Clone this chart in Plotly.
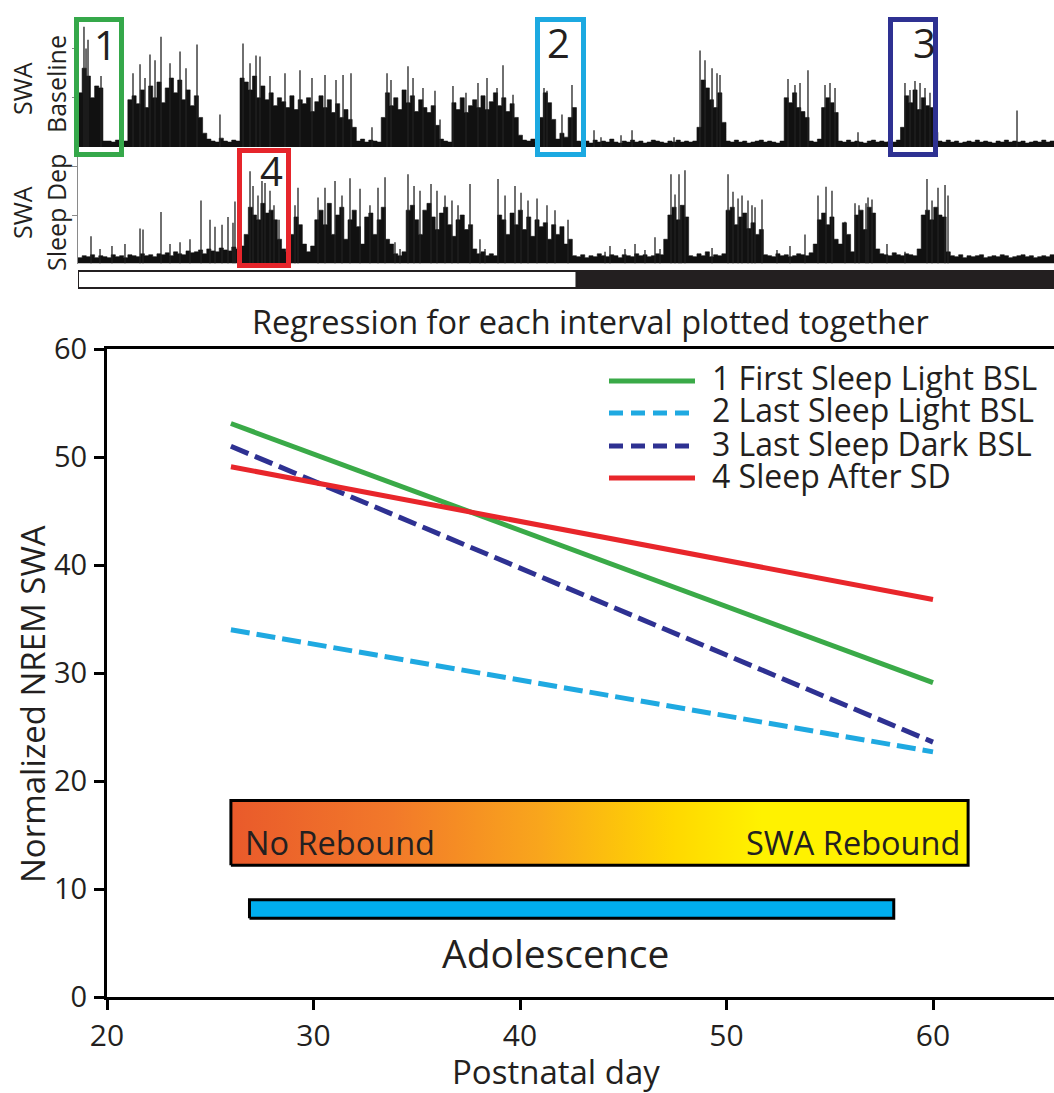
import plotly.graph_objects as go

W, H = 1054, 1093


def px(x):
    return x / W


def py(y):
    return 1 - y / H


# ---------------- regression lines: normalized NREM SWA vs postnatal day ----------------
reg_days = [26, 60]
first_light_bsl = [53.1, 29.1]
last_light_bsl = [34.0, 22.7]
last_dark_bsl = [51.0, 23.6]
after_sd = [49.1, 36.8]

series_names = ["1 First Sleep Light BSL", "2 Last Sleep Light BSL",
                "3 Last Sleep Dark BSL", "4 Sleep After SD"]
series_colors = ["#3AAA48", "#1FA9E1", "#2E3192", "#E8262B"]
series_dash = ["solid", "19px,7px", "19px,7px", "solid"]

x_ticks = [20, 30, 40, 50, 60]
y_ticks = [0, 10, 20, 30, 40, 50, 60]

rebound_days = [26.0, 61.7]
rebound_swa = [12.2, 18.2]
adolescence_days = [26.9, 58.1]
adolescence_swa = [7.3, 9.0]

# ---------------- 24 h SWA recordings (0.1 h epochs) ----------------
epoch_h = 0.1
baseline_swa = [
    55, 80, 72, 50, 62, 60, 6, 6, 5, 7, 5, 6,
    48, 52, 44, 58, 40, 62, 50, 66, 45, 60, 70, 55, 68, 48, 58, 42, 52, 30, 14,
    8, 6, 5, 9, 6, 5, 7, 6,
    70, 66, 58, 72, 50, 62, 48, 55, 42, 50, 46, 40, 52, 38, 48, 44, 50, 36, 46, 52,
    40, 48, 35, 44, 30, 38, 28, 20,
    6, 8, 5, 7, 6, 5,
    30, 55, 42, 50, 38, 58, 45, 52, 36, 48, 40, 35, 42, 22,
    8, 6, 5,
    45, 38, 50, 35, 42, 48, 40, 52, 38, 46, 55, 42, 50, 36, 44, 30, 12,
    7, 6, 8, 5,
    30, 55, 45, 28, 8, 14, 10, 30, 40, 6,
    5, 6, 4, 7, 5, 6, 5, 8, 5, 4, 6, 5, 7, 5, 6, 4, 5, 7, 6, 5, 4, 6, 5, 7, 5, 6, 5, 6,
    20, 68, 60, 48, 40, 55, 25,
    6, 5, 7, 5, 6, 4, 5, 6, 7, 5, 6, 5, 4, 6,
    50, 45, 55, 40, 36, 30,
    6, 5, 8,
    40, 50, 45, 35,
    6, 5, 7, 5, 6, 5, 4, 6, 7, 5, 6, 5, 6, 5, 7,
    20, 52, 45, 58, 38, 50, 42, 40, 15,
    6, 5, 7, 5, 6, 4, 5, 6, 5, 7, 5, 6, 5, 4, 6, 5, 7, 5, 6, 5, 6, 4, 5, 6, 5, 7, 5, 6,
]
baseline_peak_h = [
    0.144, 0.193, 0.241, 0.554,
    1.324, 1.493, 1.613, 1.733, 1.854, 1.998, 2.215, 2.456, 2.600, 2.865, 3.418,
    3.972, 4.141, 4.285, 4.381, 4.622, 4.983, 5.344, 5.633, 5.946, 6.211, 6.380, 6.572,
    7.077, 7.439, 7.535, 7.944, 8.065, 8.305, 8.594, 8.715,
    9.027, 9.340, 9.629, 9.846, 10.087, 10.231, 10.472,
    11.218, 11.290, 11.651, 11.892,
    12.422, 12.590, 13.072, 13.337, 14.348,
    14.974, 15.094, 15.263, 15.383, 15.455,
    17.092, 17.260, 17.381, 17.573,
    17.983, 18.103, 18.224, 18.777,
    19.908, 20.029, 20.149, 20.270, 20.390, 20.510, 22.605,
]
baseline_peak_swa = [
    122, 100, 109, 72,
    75, 84, 70, 94, 88, 112, 85, 97, 80, 104, 33,
    105, 85, 93, 92, 72, 75, 78, 70, 73, 68, 73, 75,
    20, 75, 68, 82, 70, 60, 57, 28,
    62, 55, 65, 70, 60, 83, 53,
    60, 57, 33, 63,
    17, 10, 12, 17, 10,
    98, 88, 80, 75, 73,
    69, 63, 65, 78,
    63, 65, 60, 15,
    65, 58, 67, 65, 60, 55, 37,
]

sleep_dep_swa = [
    6, 8, 7, 9, 6, 8, 7, 6, 9, 7, 8, 6, 9, 8, 7, 10, 8, 9, 7, 10,
    9, 11, 8, 12, 10, 9, 13, 11, 12, 14, 10, 15, 13, 12, 16, 14, 13, 17, 15, 18,
    30, 58, 50, 45, 62, 52, 55, 45, 25,
    15, 12, 30, 48, 40, 20, 12, 18,
    45, 55, 40, 62, 30, 50, 58, 25, 45, 55, 38, 20, 48, 52, 30, 45, 58, 25,
    20, 10, 8, 12,
    55, 60, 45, 30, 55, 62, 48, 35, 52, 58, 40, 28, 45, 50, 35, 40,
    15, 10, 12, 8, 10, 8,
    50, 45, 30, 52, 40, 55, 35, 48, 28, 45, 38, 42, 25, 40, 30, 38, 20, 25,
    8, 7, 9, 6, 8, 7, 10, 8, 7, 9, 8, 6, 9, 8, 7, 10, 8, 9, 7, 8, 10, 9,
    25, 50, 58, 45, 60, 48,
    8, 7, 10, 8, 12, 7, 9, 8, 10,
    55, 58, 40, 48, 52, 36, 42, 30, 35,
    9, 8, 7, 10, 8, 9, 7, 8, 10, 9, 8, 11,
    20, 45, 52, 40, 48, 25,
    20, 42, 30, 12, 50, 55, 35, 58, 52, 15,
    10, 9, 8, 11, 9, 8, 10, 9, 8,
    15, 50, 55, 45, 58, 50, 48, 12,
    8, 7, 9, 6, 8, 7, 8, 9, 6, 7, 8, 7, 9, 8, 6, 7, 8, 9, 7, 8, 6, 7, 8, 7, 9,
]
sleep_dep_peak_h = [
    0.313, 0.530, 0.818, 1.131, 1.493, 1.565, 1.998, 2.215, 2.456, 2.696,
    2.961, 3.178, 3.298, 3.467, 3.611, 3.731, 3.779, 3.900,
    4.141, 4.213, 4.333, 4.429, 4.502, 4.622, 4.718, 4.839,
    5.224, 5.296,
    5.778, 5.946, 6.187, 6.355, 6.548, 6.789, 7.029, 7.222, 7.391,
    7.631, 7.752,
    7.944, 8.089, 8.233, 8.498, 8.642, 8.835, 9.003, 9.148, 9.437,
    9.677, 9.798,
    10.111, 10.280, 10.520, 10.665, 10.833, 11.050, 11.290, 11.483, 11.796,
    12.687, 12.807, 13.168, 13.409, 13.649, 13.890, 14.011,
    14.275, 14.372, 14.468, 14.516, 14.612, 15.263,
    15.648, 15.768, 15.889, 15.985, 16.129, 16.225, 16.298, 16.466,
    16.827, 17.140, 17.501,
    17.814, 18.007, 18.151,
    18.464, 18.705, 18.801, 18.970, 19.018, 19.114,
    19.475, 19.908,
    20.438, 20.559, 20.703, 20.872, 20.944,
]
sleep_dep_peak_swa = [
    28, 15, 18, 20, 36, 35, 53, 20, 22, 25,
    65, 45, 38, 40, 48, 42, 64, 30,
    95, 80, 70, 85, 83, 75, 60, 45,
    60, 78,
    68, 78, 85, 70, 88, 77, 60, 78, 89,
    22, 15,
    92, 80, 75, 82, 75, 70, 65, 60, 82,
    25, 15,
    87, 70, 80, 73, 65, 67, 60, 55, 45,
    12, 18, 15, 20, 14, 27, 15,
    92, 71, 92, 60, 96, 16,
    92, 74, 67, 70, 65, 60, 58, 66,
    14, 18, 30,
    70, 79, 75,
    43, 62, 60, 62, 68, 66,
    20, 12,
    87, 65, 78, 81, 70,
]

light_phase_h = [0, 12]
dark_phase_h = [12, 24]

# highlighted intervals: label, colour, box in page pixels (x0, y0, x1, y1)
interval_labels = ["1", "2", "3", "4"]
interval_colors = ["#35A84A", "#1CA9E1", "#2E3192", "#E6252B"]
interval_boxes = [(76.5, 19.5, 121.5, 154.5), (537.5, 19.5, 583.5, 154.5),
                  (890.5, 19.5, 935.5, 154.5), (239.5, 150.5, 288.5, 265.5)]
interval_label_xy = [(105, 45), (558, 43), (924, 43), (271, 171)]

TXT = "#231F20"
FONT = "Open Sans"

fig = go.Figure()


def step_trace(values, xa, ya):
    t = [i * epoch_h for i in range(len(values) + 1)]
    v = list(values) + [values[-1]]
    return go.Scatter(x=t, y=v, xaxis=xa, yaxis=ya, mode="lines", line_shape="hv",
                      line=dict(color="#111111", width=0.6), fill="tozeroy",
                      fillcolor="#111111", hoverinfo="skip", showlegend=False)


def needle_trace(ts, hs, xa, ya):
    xs, ys = [], []
    for t, h in zip(ts, hs):
        xs += [t, t, None]
        ys += [0, h, None]
    return go.Scatter(x=xs, y=ys, xaxis=xa, yaxis=ya, mode="lines",
                      line=dict(color="#222222", width=1.3),
                      hoverinfo="skip", showlegend=False)


fig.add_trace(step_trace(baseline_swa, "x2", "y2"))
fig.add_trace(needle_trace(baseline_peak_h, baseline_peak_swa, "x2", "y2"))
fig.add_trace(step_trace(sleep_dep_swa, "x3", "y3"))
fig.add_trace(needle_trace(sleep_dep_peak_h, sleep_dep_peak_swa, "x3", "y3"))

# rebound gradient band
fig.add_trace(go.Scatter(
    x=[rebound_days[0], rebound_days[1], rebound_days[1], rebound_days[0], rebound_days[0]],
    y=[rebound_swa[0], rebound_swa[0], rebound_swa[1], rebound_swa[1], rebound_swa[0]],
    mode="lines", fill="toself", line=dict(color="black", width=3),
    fillgradient=dict(type="horizontal", colorscale=[
        [0.0, "#E95A2B"], [0.22, "#F2792A"], [0.42, "#F9A61C"],
        [0.6, "#FFD800"], [0.72, "#FFF200"], [1.0, "#FFF200"]]),
    hoverinfo="skip", showlegend=False))

# adolescence bar
fig.add_trace(go.Scatter(
    x=[adolescence_days[0], adolescence_days[1], adolescence_days[1], adolescence_days[0], adolescence_days[0]],
    y=[adolescence_swa[0], adolescence_swa[0], adolescence_swa[1], adolescence_swa[1], adolescence_swa[0]],
    mode="lines", fill="toself", fillcolor="#00AEEF", line=dict(color="black", width=3),
    hoverinfo="skip", showlegend=False))

for name, ys, col, dash in zip(series_names,
                               [first_light_bsl, last_light_bsl, last_dark_bsl, after_sd],
                               series_colors, series_dash):
    fig.add_trace(go.Scatter(x=reg_days, y=ys, mode="lines", name=name,
                             line=dict(color=col, width=5, dash=dash), showlegend=False))

shapes = []
# light / dark bar
shapes.append(dict(type="rect", xref="x3", yref="paper", x0=dark_phase_h[0], x1=dark_phase_h[1],
                   y0=py(288), y1=py(271), fillcolor="#231F20", line=dict(color="#231F20", width=2)))
shapes.append(dict(type="rect", xref="x3", yref="paper", x0=light_phase_h[0], x1=light_phase_h[1],
                   y0=py(288), y1=py(271), fillcolor="white", line=dict(color="#231F20", width=2)))
# interval boxes
for col, (x0, y0, x1, y1) in zip(interval_colors, interval_boxes):
    shapes.append(dict(type="rect", xref="paper", yref="paper", x0=px(x0), x1=px(x1),
                       y0=py(y1), y1=py(y0), line=dict(color=col, width=5), layer="above"))

# legend samples
legend_rows = [381, 413, 446, 478]
for col, dash, yy in zip(series_colors, ["solid", "14px,8px", "14px,8px", "solid"], legend_rows):
    shapes.append(dict(type="line", xref="paper", yref="paper", x0=px(609), x1=px(695),
                       y0=py(yy), y1=py(yy), line=dict(color=col, width=5, dash=dash)))

annotations = []
for name, yy in zip(series_names, legend_rows):
    annotations.append(dict(text=name, xref="paper", yref="paper", x=px(710), y=py(yy - 3),
                            xanchor="left", yanchor="middle", showarrow=False,
                            font=dict(family=FONT, size=32, color=TXT)))
for lab, (xx, yy) in zip(interval_labels, interval_label_xy):
    annotations.append(dict(text=lab, xref="paper", yref="paper", x=px(xx), y=py(yy),
                            xanchor="center", yanchor="middle", showarrow=False,
                            font=dict(family=FONT, size=40, color=TXT)))

side_labels = [("SWA", 22, 89), ("Baseline", 56, 84), ("SWA", 22, 213), ("Sleep Dep", 56, 213)]
for txt, xx, yy in side_labels:
    annotations.append(dict(text=txt, xref="paper", yref="paper", x=px(xx), y=py(yy),
                            xanchor="center", yanchor="middle", textangle=-90, showarrow=False,
                            font=dict(family=FONT, size=25, color=TXT)))

annotations += [
    dict(text="Regression for each interval plotted together", xref="paper", yref="paper",
         x=px(590), y=py(321), xanchor="center", yanchor="middle", showarrow=False,
         font=dict(family=FONT, size=32.5, color=TXT)),
    dict(text="Normalized NREM SWA", xref="paper", yref="paper", x=px(32), y=py(704),
         xanchor="center", yanchor="middle", textangle=-90, showarrow=False,
         font=dict(family=FONT, size=33, color=TXT)),
    dict(text="Postnatal day", xref="paper", yref="paper", x=px(556), y=py(1071.5),
         xanchor="center", yanchor="middle", showarrow=False,
         font=dict(family=FONT, size=33, color=TXT)),
    dict(text="No Rebound", x=26.6, y=14.3, xanchor="left", yanchor="middle", showarrow=False,
         font=dict(family=FONT, size=32.5, color=TXT)),
    dict(text="SWA Rebound", x=61.4, y=14.3, xanchor="right", yanchor="middle", showarrow=False,
         font=dict(family=FONT, size=32.5, color=TXT)),
    dict(text="Adolescence", x=41.7, y=4.1, xanchor="center", yanchor="middle", showarrow=False,
         font=dict(family=FONT, size=39, color=TXT)),
]

top_x = dict(domain=[px(78), 1], range=[0, (W - 78) / 41.54], visible=False,
             fixedrange=True, automargin=False)
fig.update_layout(
    width=W, height=H, margin=dict(l=0, r=0, t=0, b=0, autoexpand=False),
    paper_bgcolor="white", plot_bgcolor="rgba(0,0,0,0)", showlegend=False,
    xaxis=dict(domain=[px(107), 1], range=[20, 20 + (W - 107) / 20.65],
               tickvals=x_ticks, ticks="outside", ticklen=10, tickwidth=3, tickcolor="black",
               showline=True, linewidth=3, linecolor="black", mirror=True,
               showgrid=False, zeroline=False, automargin=False,
               tickfont=dict(family=FONT, size=30, color=TXT), anchor="y"),
    yaxis=dict(domain=[py(997), py(349)], range=[0, 60],
               tickvals=y_ticks, ticks="outside", ticklen=10, tickwidth=3, tickcolor="black",
               showline=True, linewidth=3, linecolor="black",
               showgrid=False, zeroline=False, ticklabelstandoff=1, automargin=False,
               tickfont=dict(family=FONT, size=29, color=TXT), anchor="x"),
    xaxis2=dict(top_x, anchor="y2"),
    xaxis3=dict(top_x, anchor="y3"),
    yaxis2=dict(domain=[py(147), py(17)], range=[0, 132], anchor="x2", automargin=False,
                tickvals=[50, 100], ticks="outside", ticklen=5, tickcolor="#8a8a8a",
                showticklabels=False, showline=True, linecolor="#8a8a8a", linewidth=1,
                showgrid=False, zeroline=False),
    yaxis3=dict(domain=[py(263.5), py(150)], range=[0, 117], anchor="x3", automargin=False,
                tickvals=[50, 100], ticks="outside", ticklen=5, tickcolor="#8a8a8a",
                showticklabels=False, showline=True, linecolor="#8a8a8a", linewidth=1,
                showgrid=False, zeroline=False),
    shapes=shapes, annotations=annotations,
)

fig.write_html("out.html")
